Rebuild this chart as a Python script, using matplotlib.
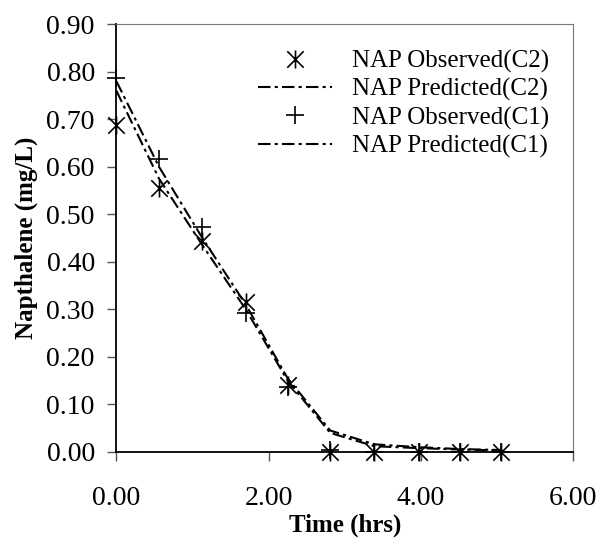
import matplotlib.pyplot as plt
from matplotlib.path import Path

plt.rcParams['font.family'] = ['Liberation Serif', 'DejaVu Serif']

# data
time = [0.0, 0.56, 1.13, 1.70, 2.25, 2.81, 3.39, 3.97, 4.52, 5.06]
obs_c2 = [0.687, 0.556, 0.443, 0.315, 0.14, 0.0, 0.0, 0.0, 0.0, 0.0]
pred_c2 = [0.76, 0.575, 0.435, 0.30, 0.15, 0.04, 0.012, 0.008, 0.005, 0.003]
obs_c1 = [0.786, 0.616, 0.474, 0.293, 0.136, 0.003, 0.0, 0.0, 0.0, 0.0]
pred_c1 = [0.78, 0.60, 0.45, 0.31, 0.155, 0.045, 0.016, 0.01, 0.006, 0.004]

xticks = [0, 2, 4, 6]
yticks = [0.0, 0.1, 0.2, 0.3, 0.4, 0.5, 0.6, 0.7, 0.8, 0.9]

# excel style asterisk: X with a vertical bar
star = Path([(-1, -1), (1, 1), (-1, 1), (1, -1), (0, -1.1), (0, 1.1)],
            [Path.MOVETO, Path.LINETO, Path.MOVETO, Path.LINETO, Path.MOVETO, Path.LINETO])

fig = plt.figure(figsize=(6.0, 5.38), dpi=100)
ax = fig.add_axes([0.194, 0.160, 0.761, 0.795])

dd = (6, 2, 1.5, 2)
ax.plot(time, obs_c2, linestyle='none', marker=star, markersize=13, mew=1.2,
        color='black', clip_on=False, label='NAP Observed(C2)')
ax.plot(time, pred_c2, color='black', lw=1.5, dashes=dd, label='NAP Predicted(C2)')
ax.plot(time, obs_c1, linestyle='none', marker='+', markersize=13, mew=1.2,
        color='black', clip_on=False, label='NAP Observed(C1)')
ax.plot(time, pred_c1, color='black', lw=1.5, dashes=dd, label='NAP Predicted(C1)')

ax.set_xlim(0, 6)
ax.set_ylim(0, 0.9)
ax.set_xticks(xticks)
ax.set_xticklabels(['%.2f' % v for v in xticks])
ax.set_yticks(yticks)
ax.set_yticklabels(['%.2f' % v for v in yticks])
ax.tick_params(labelsize=20, direction='out', length=6.5, width=1, color='#555555')
ax.tick_params(axis='x', pad=18)
ax.tick_params(axis='y', pad=9)
ax.set_xlabel('Time (hrs)', fontsize=18, fontweight='bold', labelpad=2)
ax.set_ylabel('Napthalene (mg/L)', fontsize=18, fontweight='bold', labelpad=6)

ax.spines['top'].set_color('#777777')
ax.spines['right'].set_color('#777777')
for s in ['left', 'bottom']:
    ax.spines[s].set_linewidth(1.3)

ax.legend(loc='upper left', bbox_to_anchor=(0.31, 0.94), frameon=False, fontsize=18,
          handlelength=2.96, handletextpad=0.8, labelspacing=0.21, borderpad=0,
          borderaxespad=0)

plt.savefig('out.png', dpi=100)
